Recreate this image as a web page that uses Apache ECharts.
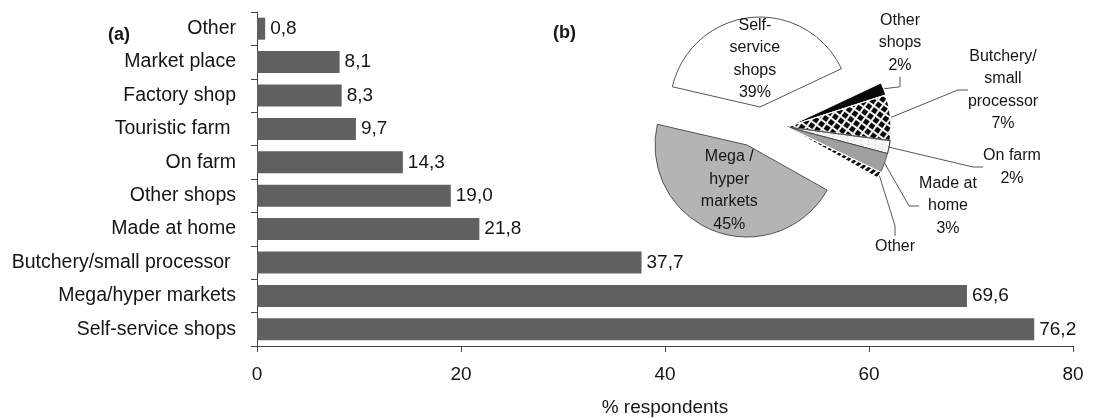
<!DOCTYPE html>
<html>
<head>
<meta charset="utf-8">
<script src="https://cdn.jsdelivr.net/npm/echarts@6/dist/echarts.min.js"></script>
<style>
html,body{margin:0;padding:0;background:#fff;}
#c{width:1099px;height:418px;}
</style>
</head>
<body>
<div id="c"></div>
<script>
// ---- data (bar chart, bottom to top) ----
const categories = ['Self-service shops','Mega/hyper markets','Butchery/small processor ','Made at home','Other shops','On farm','Touristic farm ','Factory shop','Market place','Other'];
const barValues = [76.2, 69.6, 37.7, 21.8, 19.0, 14.3, 9.7, 8.3, 8.1, 0.8];
const xMin = 0, xMax = 80, xStep = 20;
const xAxisName = '% respondents';

// ---- data (pie chart, clockwise from Self-service) ----
const pieNames = ['Self-service shops','Other shops','Butchery/small processor','On farm','Made at home','Other','Mega / hyper markets'];
const pieValues = [39, 2, 7, 2, 3, 1, 45];
const pieLabels = ['Self-\nservice\nshops\n39%','Other\nshops\n2%','Butchery/\nsmall\nprocessor\n7%','On farm\n2%','Made at\nhome\n3%','Other','Mega /\nhyper\nmarkets\n45%'];

// ---- styling ----
const FONT = '"Liberation Sans", Arial, sans-serif';
const TXT = '#151515';
const pieStyles = [
  {color:'#ffffff', borderColor:'#555', borderWidth:1},
  {color:'#080808', borderColor:'#fff', borderWidth:1.2},
  {color:'#f0f0f0', borderColor:'#fff', borderWidth:1.2,
   decal:{symbol:'rect', symbolSize:1, color:'#080808', dashArrayX:[[5,1.6]], dashArrayY:[5,1.6], rotation:Math.PI/5}},
  {color:'#f6f6f6', borderColor:'#444', borderWidth:0.8,
   decal:{symbol:'circle', symbolSize:0.7, color:'#555', dashArrayX:[[1,6]], dashArrayY:[1,3]}},
  {color:'#a0a0a0', borderColor:'#444', borderWidth:0.8},
  {color:'#111', borderColor:'#fff', borderWidth:1,
   decal:{symbol:'rect', symbolSize:1, color:'#fff', dashArrayX:[1,0], dashArrayY:[2,3], rotation:-0.7}},
  {color:'#b4b4b4', borderColor:'#555', borderWidth:1}
];
const pieLabelPos = [null, [900,43], [1003,90], [1012,167], [948,206], [895,247], null];

function pieData(visible) {
  return pieNames.map((n, i) => {
    if (visible.indexOf(i) < 0) {
      return {name:n, value:pieValues[i], itemStyle:{color:'rgba(0,0,0,0)', borderWidth:0}, label:{show:false}, labelLine:{show:false}};
    }
    return {name:n, value:pieValues[i], itemStyle:pieStyles[i]};
  });
}

const pieCommon = {
  type:'pie', startAngle:167, clockwise:true, silent:true,
  avoidLabelOverlap:false, animation:false, z:5
};
const pieLabelStyle = {fontFamily:FONT, fontSize:16, lineHeight:22.5, color:TXT, align:'center',
  formatter: p => pieLabels[p.dataIndex]};

const chart = echarts.init(document.getElementById('c'), null, {renderer:'canvas'});
chart.setOption({
  animation:false,
  backgroundColor:'#fff',
  grid:{left:257, right:26, top:12, bottom:72, containLabel:false, outerBoundsMode:'none'},
  xAxis:{
    type:'value', min:xMin, max:xMax, interval:xStep,
    name:xAxisName, nameLocation:'middle', nameGap:52,
    nameTextStyle:{fontFamily:FONT, fontSize:19, color:TXT},
    axisLine:{show:true, lineStyle:{color:'#444', width:1}},
    axisTick:{show:true, length:6, lineStyle:{color:'#444'}},
    splitLine:{show:false},
    axisLabel:{fontFamily:FONT, fontSize:19, color:TXT, margin:19}
  },
  yAxis:{
    type:'category', data:categories,
    axisLine:{show:true, lineStyle:{color:'#444', width:1}},
    axisTick:{show:true, length:6, alignWithLabel:false, lineStyle:{color:'#444'}},
    axisLabel:{fontFamily:FONT, fontSize:19.5, color:TXT, margin:21}
  },
  graphic:[
    {type:'text', left:108, top:26, style:{text:'(a)', font:'bold 18px ' + FONT, fill:TXT}},
    {type:'text', left:553, top:24, style:{text:'(b)', font:'bold 18px ' + FONT, fill:TXT}}
  ],
  series:[
    {
      type:'bar', data:barValues, barWidth:22,
      itemStyle:{color:'#606060'},
      label:{show:true, position:'right', distance:5, fontFamily:FONT, fontSize:19, color:TXT,
        formatter: p => p.value.toFixed(1).replace('.', ',')},
      silent:true
    },
    Object.assign({}, pieCommon, {
      center:[787,127], radius:104,
      data:pieData([1,2,3,4,5]),
      label:Object.assign({show:true, position:'outside'}, pieLabelStyle),
      labelLine:{show:true, length:8, length2:10, lineStyle:{color:'#555', width:1}},
      labelLayout: function (p) {
        const pos = pieLabelPos[p.dataIndex];
        if (!pos) return {};
        return {x:pos[0], y:pos[1], align:'center', verticalAlign:'middle'};
      }
    }),
    Object.assign({}, pieCommon, {
      center:[760,107], radius:90,
      data:pieData([0]),
      label:Object.assign({show:true, position:'inside'}, pieLabelStyle),
      labelLine:{show:false}
    }),
    Object.assign({}, pieCommon, {
      center:[747,145], radius:92,
      data:pieData([6]),
      label:Object.assign({show:true, position:'inside'}, pieLabelStyle),
      labelLine:{show:false}
    })
  ]
});
</script>
</body>
</html>
